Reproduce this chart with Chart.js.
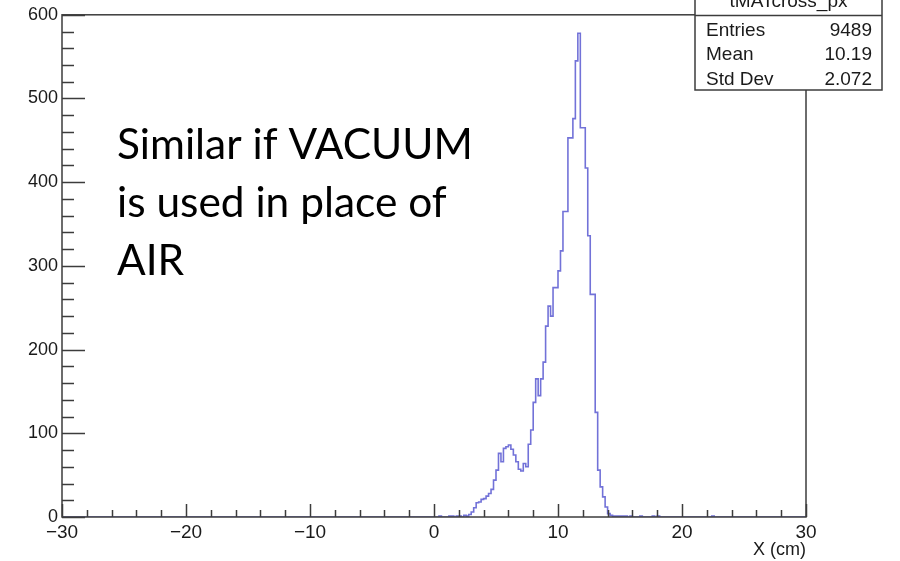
<!DOCTYPE html>
<html>
<head>
<meta charset="utf-8">
<script src="https://cdn.jsdelivr.net/npm/chart.js@4/dist/chart.umd.min.js"></script>
<style>
  html, body { margin: 0; padding: 0; background: #fff; }
  #wrap { width: 900px; height: 561px; }
</style>
</head>
<body>
<div id="wrap"><canvas id="hist"></canvas></div>
<script>
// histogram: 0.2 cm bins starting at x = 0
const binStart = 0;
const binWidth = 0.2;
const binCounts = [
  0, 0, 1, 0, 0, 0, 1, 1, 0, 1, 1, 0, 2, 1, 3,
  6, 11, 17, 18, 21, 22, 25, 28, 33, 44,
  56, 76, 66, 82, 84, 86, 81, 74, 66, 57, 55, 64, 60, 87, 104,
  137, 165, 145, 165, 185, 228, 252, 240, 274, 274, 294, 318, 365, 365,
  453, 453, 476, 545, 578, 465, 465, 417, 336, 266, 266,
  125, 56, 36, 24, 12, 4, 2, 1, 1, 1, 1, 1, 1, 0, 1, 0, 0, 0, 1,
  0, 0, 0, 0, 1, 0, 1, 0, 0, 0, 0, 0, 0, 0, 0, 0, 0, 0, 0, 0, 0, 0, 0, 0, 0, 0, 0, 0, 1
];
const xRange = [-30, 30];
const yRange = [0, 600];
const xMajor = 10, xMinor = 2;
const yMajor = 100, yMinor = 20;

const histName = 'tMATcross_px';
const statLabels = ['Entries', 'Mean', 'Std Dev'];
const statValues = ['9489', '10.19', '2.072'];
const noteLines = ['Similar if VACUUM', 'is used in place of', 'AIR'];

const FONT = "'Liberation Sans', Arial, Helvetica, sans-serif";
const INK = '#1a1a1a';
const FRAME = '#3c3c3c';

// bin edges -> step outline, zero outside the filled range
const points = [{ x: xRange[0], y: 0 }];
binCounts.forEach((c, i) => points.push({ x: binStart + i * binWidth, y: c }));
const lastEdge = binStart + binCounts.length * binWidth;
points.push({ x: lastEdge, y: 0 });
points.push({ x: xRange[1], y: 0 });

const rootFrame = {
  id: 'rootFrame',
  afterDatasetsDraw(chart) {
    const { ctx, chartArea: a, scales: { x, y } } = chart;
    ctx.save();
    ctx.strokeStyle = FRAME;
    ctx.lineWidth = 1.5;
    ctx.strokeRect(a.left, a.top, a.right - a.left, a.bottom - a.top);

    // inward ticks along the bottom and left axes
    ctx.beginPath();
    for (let v = xRange[0]; v <= xRange[1]; v += xMinor) {
      const px = Math.round(x.getPixelForValue(v)) + 0.5;
      const len = v % xMajor === 0 ? 13 : 7;
      ctx.moveTo(px, a.bottom);
      ctx.lineTo(px, a.bottom - len);
    }
    for (let v = yRange[0]; v <= yRange[1]; v += yMinor) {
      const py = Math.round(y.getPixelForValue(v)) + 0.5;
      const len = v % yMajor === 0 ? 23 : 12;
      ctx.moveTo(a.left, py);
      ctx.lineTo(a.left + len, py);
    }
    ctx.stroke();

    // stats box, top edge runs off the canvas
    const bx = 695, bw = 187, bBottom = 90;
    ctx.fillStyle = '#fff';
    ctx.fillRect(bx, -5, bw, bBottom + 5);
    ctx.strokeRect(bx, -5, bw, bBottom + 5);
    ctx.beginPath();
    ctx.moveTo(bx, 15.5);
    ctx.lineTo(bx + bw, 15.5);
    ctx.stroke();

    ctx.fillStyle = INK;
    ctx.font = `19px ${FONT}`;
    ctx.textBaseline = 'alphabetic';
    ctx.textAlign = 'center';
    ctx.fillText(histName, bx + bw / 2, 7);
    statLabels.forEach((lab, i) => {
      const by = 35.5 + i * 24.5;
      ctx.textAlign = 'left';
      ctx.fillText(lab, bx + 11, by);
      ctx.textAlign = 'right';
      ctx.fillText(statValues[i], bx + bw - 10, by);
    });

    // free text note
    let size = 40;
    ctx.font = `${size}px Lato, 'Open Sans', sans-serif`;
    size = size * 356 / ctx.measureText(noteLines[0]).width;
    ctx.font = `${size}px Lato, 'Open Sans', sans-serif`;
    ctx.textAlign = 'left';
    ctx.fillStyle = '#000';
    noteLines.forEach((t, i) => ctx.fillText(t, 117, 159 + i * 58));
    ctx.restore();
  }
};

new Chart(document.getElementById('hist'), {
  type: 'line',
  data: {
    datasets: [{
      data: points,
      stepped: 'before',
      borderColor: '#7272d8',
      borderWidth: 1.6,
      pointRadius: 0,
      fill: false
    }]
  },
  options: {
    responsive: true,
    maintainAspectRatio: false,
    animation: false,
    layout: { padding: { top: 13, right: 94, left: 0, bottom: 0 } },
    plugins: { legend: { display: false }, tooltip: { enabled: false } },
    scales: {
      x: {
        type: 'linear',
        min: xRange[0],
        max: xRange[1],
        grid: { display: false, drawTicks: false },
        border: { display: false },
        ticks: {
          stepSize: xMajor,
          padding: 4,
          color: INK,
          maxRotation: 0,
          font: { family: FONT, size: 19 },
          callback: v => String(v).replace('-', '\u2212')
        },
        title: {
          display: true,
          text: 'X (cm)',
          align: 'end',
          color: INK,
          padding: { top: 0, bottom: 0 },
          font: { family: FONT, size: 18 }
        },
        afterFit: s => { s.height = 44; }
      },
      y: {
        min: yRange[0],
        max: yRange[1],
        grid: { display: false, drawTicks: false },
        border: { display: false },
        ticks: {
          stepSize: yMajor,
          padding: 4,
          color: INK,
          font: { family: FONT, size: 18 }
        },
        afterFit: s => { s.width = 62; }
      }
    }
  },
  plugins: [rootFrame]
});
</script>
</body>
</html>
